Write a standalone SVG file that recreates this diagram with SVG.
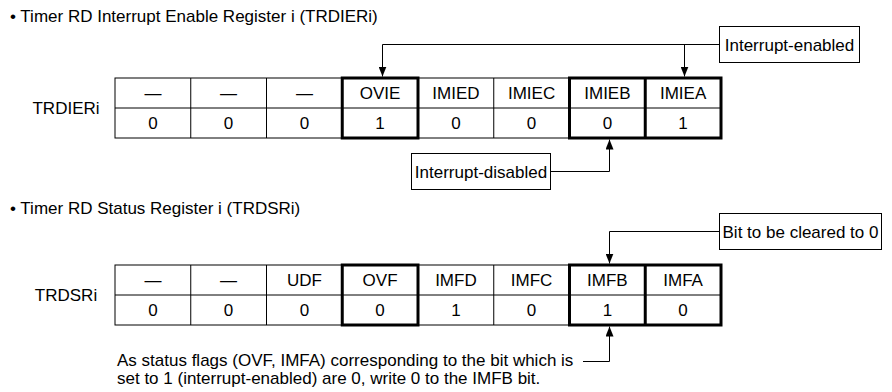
<svg xmlns="http://www.w3.org/2000/svg" width="892" height="392" viewBox="0 0 892 392">
<style>
  text { font-family: "Liberation Sans", Arial, sans-serif; font-size: 17px; fill: #000; }
  .c { text-anchor: middle; }
  .thin { fill: none; stroke: #000; stroke-width: 1; }
  .thick { fill: none; stroke: #000; stroke-width: 3; }
  .conn { fill: none; stroke: #000; stroke-width: 1; marker-end: url(#ah); }
  .box { fill: #fff; stroke: #000; stroke-width: 1; }
</style>
<defs>
  <marker id="ah" viewBox="0 0 10 8" refX="10" refY="4" markerWidth="10" markerHeight="8" orient="auto" markerUnits="userSpaceOnUse">
    <path d="M0,0 L10,4 L0,8 z" fill="#000"/>
  </marker>
</defs>
<rect width="892" height="392" fill="#fff"/>

<g id="title1"><text x="10" y="22">• Timer RD Interrupt Enable Register i (TRDIERi)</text></g>
<g id="title2"><text x="10" y="214">• Timer RD Status Register i (TRDSRi)</text></g>

<g id="reg-trdier">
  <text class="c" x="66" y="114">TRDIERi</text>
  <rect class="thin" x="115" y="78" width="606" height="60"/>
  <path class="thin" d="M115,108 H721 M190.75,78 V138 M266.5,78 V138 M342.25,78 V138 M418,78 V138 M493.75,78 V138 M569.5,78 V138 M645.25,78 V138"/>
  <rect class="thick" x="342.25" y="78" width="75.75" height="60"/>
  <rect class="thick" x="569.5" y="78" width="151.5" height="60"/>
  <path class="thick" d="M645.25,78 V138"/>
  <text class="c" x="152.9" y="99">—</text>
  <text class="c" x="228.6" y="99">—</text>
  <text class="c" x="304.4" y="99">—</text>
  <text class="c" x="380.1" y="99">OVIE</text>
  <text class="c" x="455.9" y="99">IMIED</text>
  <text class="c" x="531.6" y="99">IMIEC</text>
  <text class="c" x="607.4" y="99">IMIEB</text>
  <text class="c" x="683.1" y="99">IMIEA</text>
  <text class="c" x="152.9" y="129">0</text>
  <text class="c" x="228.6" y="129">0</text>
  <text class="c" x="304.4" y="129">0</text>
  <text class="c" x="380.1" y="129">1</text>
  <text class="c" x="455.9" y="129">0</text>
  <text class="c" x="531.6" y="129">0</text>
  <text class="c" x="607.4" y="129">0</text>
  <text class="c" x="683.1" y="129">1</text>
</g>

<g id="reg-trdsr">
  <text class="c" x="66" y="301">TRDSRi</text>
  <rect class="thin" x="115" y="265" width="606" height="60"/>
  <path class="thin" d="M115,295 H721 M190.75,265 V325 M266.5,265 V325 M342.25,265 V325 M418,265 V325 M493.75,265 V325 M569.5,265 V325 M645.25,265 V325"/>
  <rect class="thick" x="342.25" y="265" width="75.75" height="60"/>
  <rect class="thick" x="569.5" y="265" width="151.5" height="60"/>
  <path class="thick" d="M645.25,265 V325"/>
  <text class="c" x="152.9" y="286">—</text>
  <text class="c" x="228.6" y="286">—</text>
  <text class="c" x="304.4" y="286">UDF</text>
  <text class="c" x="380.1" y="286">OVF</text>
  <text class="c" x="455.9" y="286">IMFD</text>
  <text class="c" x="531.6" y="286">IMFC</text>
  <text class="c" x="607.4" y="286">IMFB</text>
  <text class="c" x="683.1" y="286">IMFA</text>
  <text class="c" x="152.9" y="316">0</text>
  <text class="c" x="228.6" y="316">0</text>
  <text class="c" x="304.4" y="316">0</text>
  <text class="c" x="380.1" y="316">0</text>
  <text class="c" x="455.9" y="316">1</text>
  <text class="c" x="531.6" y="316">0</text>
  <text class="c" x="607.4" y="316">1</text>
  <text class="c" x="683.1" y="316">0</text>
</g>

<g id="connectors">
  <path class="conn" d="M719,44.5 H382.5 V76.5"/>
  <path class="conn" d="M684.5,44.5 V76.5"/>
  <path class="conn" d="M551,171.5 H609.5 V139.5"/>
  <path class="conn" d="M719,231.5 H609.5 V263.5"/>
  <path class="conn" d="M583,361.5 H609.5 V326.5"/>
</g>

<g id="note-enabled">
  <rect class="box" x="719.5" y="26.5" width="140" height="36"/>
  <text class="c" x="789.5" y="50.5">Interrupt-enabled</text>
</g>
<g id="note-disabled">
  <rect class="box" x="411.5" y="153.5" width="139" height="36"/>
  <text class="c" x="481" y="177.5">Interrupt-disabled</text>
</g>
<g id="note-cleared">
  <rect class="box" x="719.5" y="213.5" width="162" height="36"/>
  <text class="c" x="800.5" y="237.5">Bit to be cleared to 0</text>
</g>
<g id="note-status">
  <text x="117" y="366">As status flags (OVF, IMFA) corresponding to the bit which is</text>
  <text x="117" y="384">set to 1 (interrupt-enabled) are 0, write 0 to the IMFB bit.</text>
</g>
</svg>
